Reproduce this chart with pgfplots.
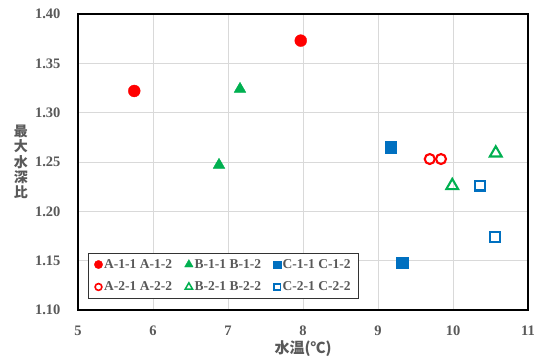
\documentclass[border=0pt]{standalone}
\usepackage{fontspec}
\setmainfont{Liberation Serif}
\newfontfamily\cjk{Noto Sans CJK JP}
\usepackage{pgfplots}
\pgfplotsset{compat=1.18}
\definecolor{cred}{HTML}{FF0000}
\definecolor{cgreen}{HTML}{00B050}
\definecolor{cblue}{HTML}{0070C0}
\definecolor{ctxt}{HTML}{595959}
\definecolor{cgrid}{HTML}{D9D9D9}
\begin{document}
\begin{tikzpicture}
\begin{axis}[
  name=a,
  scale only axis, width=450pt, height=296pt,
  xmin=5, xmax=11, ymin=1.10, ymax=1.40,
  xtick={5,6,...,11}, ytick={1.10,1.15,...,1.40},
  grid=major, major grid style={cgrid, line width=0.8pt},
  axis line style={black, line width=1.2pt},
  major tick length=0pt,
  /pgf/number format/assume math mode=true,
  y tick label style={/pgf/number format/fixed, /pgf/number format/fixed zerofill, /pgf/number format/precision=2},
  tick label style={font=\bfseries\fontsize{14.5}{14.5}\selectfont, text=ctxt},
  xticklabel style={yshift=-12pt},
  yticklabel style={xshift=-14pt},
  xlabel={水温(℃)},
  every axis x label/.style={at={(axis description cs:0.5,0)}, anchor=center, yshift=-39pt,
     font=\cjk\bfseries\fontsize{15}{15}\selectfont, text=ctxt},
  ylabel={最\\大\\水\\深\\比},
  every axis y label/.style={at={(axis description cs:0,0.5)}, anchor=center, xshift=-57pt, align=center,
     font=\cjk\bfseries\fontsize{14}{15.4}\selectfont, text=ctxt},
  legend columns=3,
  legend cell align=left,
  legend style={at={(axis description cs:0,0)}, anchor=south west, xshift=10pt, yshift=11pt,
     draw=black!80, line width=0.6pt, fill=white, inner xsep=6pt, inner ysep=5pt,
     font=\bfseries\fontsize{13.5}{13.5}\selectfont, text=ctxt,
     nodes={inner sep=1.5pt}, row sep=9pt,
     /tikz/every even column/.append style={column sep=11pt}},
  legend image code/.code={\draw[#1] plot coordinates {(0pt,0pt)};},
]
% legend images
\addlegendimage{cred, mark=*, mark size=4.2pt, line width=0.3pt}
\addlegendentry{A-1-1 A-1-2}
\addlegendimage{cgreen, mark=triangle*, mark size=5pt, line width=0.3pt}
\addlegendentry{B-1-1 B-1-2}
\addlegendimage{cblue, mark=square*, mark size=3.8pt, line width=0.3pt}
\addlegendentry{C-1-1 C-1-2}
\addlegendimage{cred, mark=o, mark size=3.4pt, line width=1.6pt}
\addlegendentry{A-2-1 A-2-2}
\addlegendimage{cgreen, mark=triangle, mark size=4.2pt, line width=1.5pt}
\addlegendentry{B-2-1 B-2-2}
\addlegendimage{cblue, mark=square, mark size=3.1pt, line width=1.6pt}
\addlegendentry{C-2-1 C-2-2}
% data
\addplot[forget plot, only marks, cred, mark=*, mark size=6pt, line width=0.3pt] coordinates {(5.75,1.322) (7.97,1.373)};
\addplot[forget plot, only marks, cgreen, mark=triangle*, mark size=6.8pt, line width=0.3pt] coordinates {(7.16,1.324) (6.88,1.247)};
\addplot[forget plot, only marks, cblue, mark=square*, mark size=5.8pt, line width=0.3pt] coordinates {(9.17,1.265) (9.32,1.148)};
\addplot[forget plot, only marks, cred, mark=o, mark size=5pt, line width=2.1pt] coordinates {(9.69,1.253) (9.84,1.253)};
\addplot[forget plot, only marks, cgreen, mark=triangle, mark size=6.8pt, line width=2.1pt] coordinates {(10.57,1.259) (9.99,1.226)};
\addplot[forget plot, only marks, cblue, mark=square, mark size=4.8pt, line width=2.1pt] coordinates {(10.36,1.226) (10.56,1.174)};
\end{axis}
\pgfresetboundingbox
\path ([shift={(-78pt,-50pt)}]a.south west) rectangle ([shift={(9pt,14pt)}]a.north east);
\end{tikzpicture}
\end{document}
